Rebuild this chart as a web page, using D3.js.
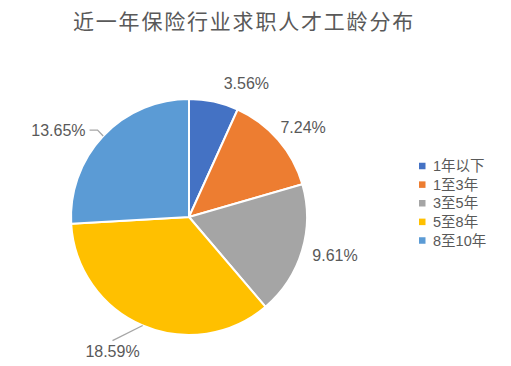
<!DOCTYPE html>
<html>
<head>
<meta charset="utf-8">
<script src="https://cdn.jsdelivr.net/npm/d3@7"></script>
<style>
  html, body { margin: 0; padding: 0; background: #fff; }
  svg { display: block; }
  text { font-family: "Liberation Sans", "Noto Sans CJK SC", sans-serif; fill: #595959; }
</style>
</head>
<body>
<svg id="chart" width="511" height="366"></svg>
<script>
// ---- data ----
const title = "近一年保险行业求职人才工龄分布";
const categories = ["1年以下", "1至3年", "3至5年", "5至8年", "8至10年"];
const values = [3.56, 7.24, 9.61, 18.59, 13.65];
const valueLabels = ["3.56%", "7.24%", "9.61%", "18.59%", "13.65%"];
const colors = ["#4472C4", "#ED7D31", "#A5A5A5", "#FFC000", "#5B9BD5"];

// ---- layout (label placement relative to slice mid-angle) ----
const labelAngleShift = [11.0, 2.8, -1.9, 6.6, -9.7];   // degrees
const labelRadiusFactor = [1.235, 1.229, 1.28, 1.308, 1.329];
const hasLeader = [false, false, false, true, true];

const W = 511, H = 366;
const cx = 189, cy = 217, R = 118;

const svg = d3.select("#chart");

// title
svg.append("text")
  .attr("x", 73).attr("y", 29)
  .attr("text-anchor", "start")
  .style("font-family", "'Noto Sans CJK SC', sans-serif")
  .style("font-size", "21px")
  .style("letter-spacing", "1.8px")
  .text(title);

const pie = d3.pie().sort(null).value(d => d)(values);
const arc = d3.arc().innerRadius(0).outerRadius(R);

const g = svg.append("g").attr("transform", `translate(${cx},${cy})`);

g.selectAll("path.slice")
  .data(pie)
  .join("path")
  .attr("class", "slice")
  .attr("d", arc)
  .attr("fill", (d, i) => colors[i])
  .attr("stroke", "#fff")
  .attr("stroke-width", 2)
  .attr("stroke-linejoin", "round");

// labels
const fontSize = 16;
const labelG = g.append("g");
pie.forEach((d, i) => {
  const mid = (d.startAngle + d.endAngle) / 2;
  const a = mid + labelAngleShift[i] * Math.PI / 180;
  const rho = R * labelRadiusFactor[i];
  const lx = rho * Math.sin(a), ly = -rho * Math.cos(a);
  const t = labelG.append("text")
    .attr("x", lx).attr("y", ly)
    .attr("text-anchor", "middle")
    .attr("dy", "0.36em")
    .style("font-size", fontSize + "px")
    .text(valueLabels[i]);
  if (hasLeader[i]) {
    const bb = t.node().getBBox();
    const p0 = [R * Math.sin(mid), -R * Math.cos(mid)];
    const bcx = bb.x + bb.width / 2, bcy = ly;
    const halfW = bb.width / 2, halfH = 6.5;
    const dx = p0[0] - bcx, dy = p0[1] - bcy;
    let pts;
    if (Math.abs(dx) / halfW > Math.abs(dy) / halfH) {
      const sx = dx > 0 ? 1 : -1;
      const ex = bcx + sx * (halfW + 4);
      pts = [p0, [ex + sx * 8, bcy], [ex, bcy]];
    } else {
      const sy = dy > 0 ? 1 : -1;
      pts = [p0, [bcx, bcy + sy * (halfH + 4)]];
    }
    labelG.insert("path", "text")
      .attr("d", d3.line()(pts))
      .attr("fill", "none")
      .attr("stroke", "#A6A6A6")
      .attr("stroke-width", 1.3);
  }
});

// legend
const legendY = d3.scalePoint().domain(categories).range([166, 240.5]);
const lg = svg.append("g");
categories.forEach((c, i) => {
  const y = legendY(c);
  lg.append("rect")
    .attr("x", 419).attr("y", y - 3.25)
    .attr("width", 6.5).attr("height", 6.5)
    .attr("fill", colors[i]);
  lg.append("text")
    .attr("x", 433).attr("y", y)
    .attr("dy", "0.36em")
    .style("font-size", "14.5px")
    .text(c);
});
</script>
</body>
</html>
